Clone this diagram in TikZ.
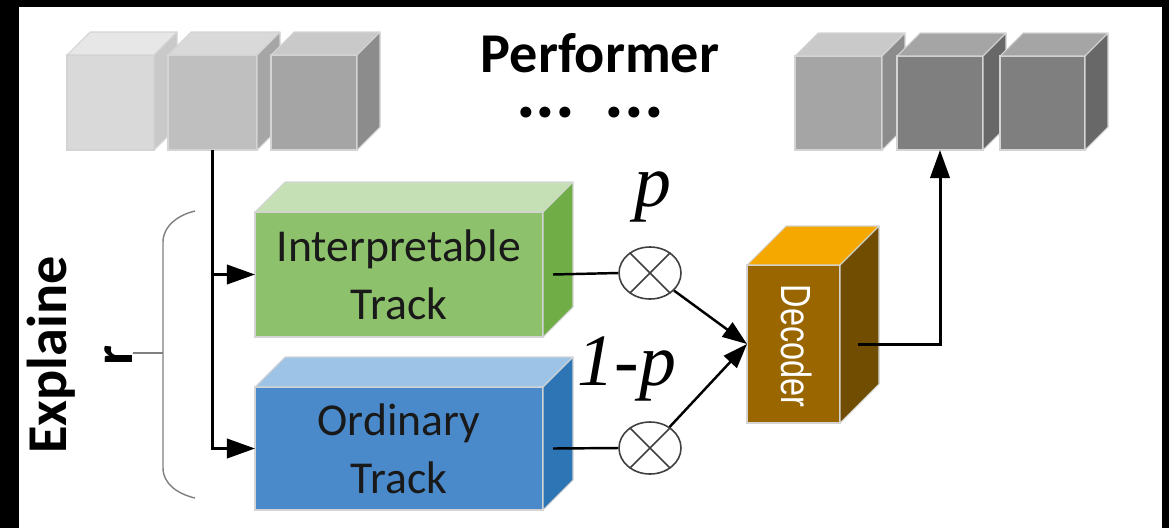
\documentclass[tikz,border=0pt]{standalone}
\usepackage{fontspec}
\usepackage{graphicx}
\setmainfont{Carlito}
\newfontfamily\serifit{Liberation Serif Italic}
\newfontfamily\arialish{Liberation Sans}
\usetikzlibrary{arrows.meta,shapes.geometric}

\newdimen\pxu \pxu=0.02cm

% face colours
\definecolor{gA}{HTML}{D9D9D9}\definecolor{gAt}{HTML}{E7E7E7}\definecolor{gAs}{HTML}{C9C9C9}
\definecolor{gB}{HTML}{BFBFBF}\definecolor{gBt}{HTML}{D9D9D9}\definecolor{gBs}{HTML}{A6A6A6}
\definecolor{gC}{HTML}{A5A5A5}\definecolor{gCt}{HTML}{C9C9C9}\definecolor{gCs}{HTML}{8C8C8C}
\definecolor{gD}{HTML}{7F7F7F}\definecolor{gDt}{HTML}{A5A5A5}\definecolor{gDs}{HTML}{686868}
\definecolor{grF}{HTML}{8DC16B}\definecolor{grT}{HTML}{C5E0B4}\definecolor{grS}{HTML}{70AD47}
\definecolor{blF}{HTML}{4A8ACB}\definecolor{blT}{HTML}{9DC3E6}\definecolor{blS}{HTML}{2E75B6}
\definecolor{dcF}{HTML}{996600}\definecolor{dcT}{HTML}{F5A800}\definecolor{dcS}{HTML}{704D00}
\definecolor{edge}{HTML}{D4D4D4}
\definecolor{brk}{HTML}{808080}

\tikzset{
  face/.style={rectangle, draw=edge, line width=0.6pt, inner sep=0pt, outer sep=0pt},
  faceline/.style={draw=edge, line width=0.6pt, line join=round},
  conn/.style={line width=1.7pt, -{Triangle[length=16pt,width=11pt]}},
  conn2/.style={line width=1.4pt, -{Triangle[length=14pt,width=10pt]}},
  wire/.style={line width=1.4pt},
  mult/.style={ellipse, draw=black!75, line width=0.9pt, minimum width=62\pxu,
    minimum height=52\pxu, inner sep=0pt},
  multx/.style={draw=black!75, line width=0.9pt},
  bracket/.style={draw=brk, line width=0.8pt},
  tracktxt/.style={align=center, font=\fontsize{26pt}{33pt}\selectfont, text=black!90},
  titletxt/.style={font=\bfseries\fontsize{32pt}{38pt}\selectfont, inner sep=0pt},
  dotstxt/.style={font=\bfseries\fontsize{42pt}{42pt}\selectfont, inner sep=0pt,
    text height=8pt, text depth=0pt},
  explaintxt/.style={align=center, font=\bfseries\fontsize{32pt}{37.5pt}\selectfont},
  dectxt/.style={text=white, font=\arialish\fontsize{24pt}{28pt}\selectfont, inner sep=0pt},
  plabel/.style={font=\serifit\fontsize{42pt}{48pt}\selectfont, inner sep=0pt},
}

% a box drawn in cabinet projection: name, x, y (front top-left), width, height, depth,
% front, top and side colours
\newcommand\slab[9]{%
  \node[face, fill=#7, minimum width=#4\pxu, minimum height=#5\pxu, anchor=north west] (#1) at (#2,#3) {};
  \filldraw[faceline, fill=#8] (#1.north west) -- ++(#6,-#6) -- ++(#4,0) -- (#1.north east) -- cycle;
  \filldraw[faceline, fill=#9] (#1.north east) -- ++(#6,-#6) -- ++(0,#5) -- (#1.south east) -- cycle;
}

\begin{document}
\begin{tikzpicture}[x=0.02cm, y=-0.02cm]
  % frame
  \fill[black] (0,0) rectangle (1169,528);
  \fill[white] (19,7) rectangle (1162,528);

  % input blocks
  \slab{c1}{67}{55}{87}{95}{23}{gA}{gAt}{gAs}
  \slab{c2}{168}{55}{89}{95}{23}{gB}{gBt}{gBs}
  \slab{c3}{271}{55}{86}{95}{23}{gC}{gCt}{gCs}
  % output blocks
  \slab{c4}{795}{56}{87}{94}{23}{gC}{gCt}{gCs}
  \slab{c5}{897}{56}{86}{94}{23}{gD}{gDt}{gDs}
  \slab{c6}{1000}{56}{85}{94}{23}{gD}{gDt}{gDs}

  \node[titletxt, anchor=base] (perf) at (600,72) {Performer};
  \node[dotstxt, anchor=base] (dots) at (590,117) {...\hspace{0.4em}...};

  % the two tracks
  \slab{itrack}{255}{212}{288}{125}{30}{grF}{grT}{grS}
  \slab{otrack}{255}{387}{288}{123}{30}{blF}{blT}{blS}
  \node[tracktxt] (itxt) at (itrack) {Interpretable\\Track};
  \node[tracktxt] (otxt) at (otrack) {Ordinary\\Track};

  % decoder
  \slab{dec}{747}{265}{93}{158}{39}{dcF}{dcT}{dcS}
  \node[dectxt, rotate=-90] (dtxt) at (797,346) {\scalebox{0.77}[1]{Decoder}};

  % explainer brace and label
  \node[explaintxt, rotate=90] (expl) at (80,355) {Explaine\\r};
  \draw[bracket] (195,211) .. controls (178,215) and (163,226) .. (163,242) -- (163,468)
                 .. controls (163,484) and (178,494) .. (195,498);
  \draw[bracket] (133,353) -- (163,353);

  % multipliers
  \node[mult] (m1) at (650,273) {};
  \node[mult] (m2) at (650,448) {};
  \draw[multx] (m1.135) -- (m1.-45) (m1.45) -- (m1.-135);
  \draw[multx] (m2.135) -- (m2.-45) (m2.45) -- (m2.-135);

  \node[plabel, anchor=base] (plab) at (653,206) {p};
  \node[plabel, anchor=base] (qlab) at (627,385) {1-p};

  % connectors
  \draw[conn] (c2.south) |- (itrack.west);
  \draw[conn] (c2.south) |- (otrack.west);
  \coordinate (iout) at ([xshift=10\pxu]itrack.east);
  \coordinate (oout) at ([xshift=10\pxu]otrack.east);
  \draw[wire] (iout) -- (m1.west);
  \draw[wire] (oout) -- (m2.west);
  \draw[conn2] (m1) -- (dec.west);
  \draw[conn2] (m2) -- (dec.west);
  \coordinate (dout) at ([xshift=18\pxu]dec.east);
  \draw[conn] (dout) -| (c5.south);
\end{tikzpicture}
\end{document}
